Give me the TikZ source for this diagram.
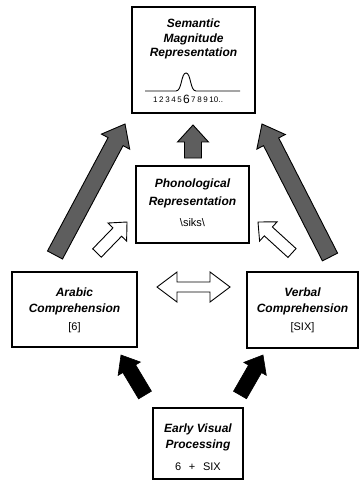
\documentclass[tikz,border=0pt]{standalone}
\usepackage{fontspec}
\setmainfont{Liberation Sans}
\usetikzlibrary{calc}

% Block arrow from #2 (tail) to #3 (tip):
% #1 style, #4 half shaft width, #5 half head width, #6 head length
\newcommand\blockarrow[6]{%
  \path ($(#3)!#6!(#2)$) coordinate (bahead);
  \draw[#1] ($(#2)!#4!90:(#3)$) -- ($(bahead)!#4!90:(#3)$)
    -- ($(bahead)!#5!90:(#3)$) -- (#3) -- ($(bahead)!#5!-90:(#3)$)
    -- ($(bahead)!#4!-90:(#3)$) -- ($(#2)!#4!-90:(#3)$) -- cycle;
}

\tikzset{
  box/.style={draw, line width=1.3pt, inner sep=0pt},
  title/.style={font=\fontsize{12}{15}\selectfont\bfseries\itshape, anchor=base, inner sep=0pt},
  code/.style={font=\fontsize{11}{13}\selectfont, anchor=base, inner sep=0pt},
  numsmall/.style={font=\fontsize{8}{9}\selectfont, inner sep=0pt},
  grayarrow/.style={fill=black!63, draw=black, line width=0.9pt, line join=miter},
  whitearrow/.style={fill=white, draw=black, line width=0.9pt, line join=miter},
  blackarrow/.style={fill=black, draw=black, line width=0.6pt, line join=miter},
}

\begin{document}
\begin{tikzpicture}[x=1pt, y=-1pt]
  \useasboundingbox (0,0) rectangle (361,481);

  % boxes
  \node[box, minimum width=123pt, minimum height=106pt] (sem) at (193.5,60) {};
  \node[box, minimum width=113pt, minimum height=77pt] (pho) at (192.5,204.5) {};
  \node[box, minimum width=125pt, minimum height=75pt] (ara) at (74.5,309.5) {};
  \node[box, minimum width=111pt, minimum height=76pt] (ver) at (302.5,310) {};
  \node[box, minimum width=90pt, minimum height=71pt] (vis) at (198,443.5) {};

  % semantic magnitude representation
  \node[title] (semA) at (193.5,28) {Semantic};
  \node[title] (semB) at (193.5,42.5) {Magnitude};
  \node[title] (semC) at (193.5,57) {Representation};
  \draw[line width=0.9pt] (145,91) -- (176,91)
    .. controls (182,91) and (181,73) .. (186,73)
    .. controls (191,73) and (190,91) .. (196,91) -- (240,91);
  \node[numsmall, anchor=base east] (numA) at (182,103) {1\kern1.6pt2\kern1.6pt3\kern1.6pt4\kern1.6pt5};
  \node[font=\fontsize{12}{13}\selectfont, anchor=base, inner sep=0pt] (numB) at (186.5,104) {6};
  \node[numsmall, anchor=base west] (numC) at (191,103) {7\kern1.6pt8\kern1.6pt9\kern1.6pt10\kern0.5pt..};

  % phonological representation
  \node[title] (phoA) at (192.5,187.5) {Phonological};
  \node[title] (phoB) at (192.5,205) {Representation};
  \node[code] (phoC) at (192.5,226) {\textbackslash siks\textbackslash};

  % arabic comprehension
  \node[title] (araA) at (74.5,296) {Arabic};
  \node[title] (araB) at (74.5,312) {Comprehension};
  \node[code] (araC) at (74.5,330) {[6]};

  % verbal comprehension
  \node[title] (verA) at (302.5,296) {Verbal};
  \node[title] (verB) at (302.5,312) {Comprehension};
  \node[code] (verC) at (302.5,330) {[SIX]};

  % early visual processing
  \node[title] (visA) at (198,432) {Early Visual};
  \node[title] (visB) at (198,448) {Processing};
  \node[code] (visC) at (198,470.5) {6\hspace{0.7em}+\hspace{0.7em}SIX};

  % arrow end points
  \coordinate (gLt) at (55,255);   \coordinate (gLh) at (125,124);
  \coordinate (gRt) at (330,257);  \coordinate (gRh) at (262,124);
  \coordinate (gMt) at (193,158);  \coordinate (gMh) at (193,125);
  \coordinate (wLt) at (97,253);   \coordinate (wLh) at (127,222);
  \coordinate (wRt) at (292,253);  \coordinate (wRh) at (258,222);
  \coordinate (bLt) at (145,395);  \coordinate (bLh) at (121,355);
  \coordinate (bRt) at (240,395);  \coordinate (bRh) at (263,355);

  % routes into the semantic representation
  \blockarrow{grayarrow}{gLt}{gLh}{8.5pt}{16pt}{20pt}
  \blockarrow{grayarrow}{gRt}{gRh}{8.5pt}{16pt}{20pt}
  \blockarrow{grayarrow}{gMt}{gMh}{8.5pt}{15.5pt}{17pt}

  % routes into the phonological representation
  \blockarrow{whitearrow}{wLt}{wLh}{6pt}{13pt}{14pt}
  \blockarrow{whitearrow}{wRt}{wRh}{6pt}{13pt}{14pt}

  % visual input to the comprehension systems
  \blockarrow{blackarrow}{bLt}{bLh}{7.5pt}{13pt}{16pt}
  \blockarrow{blackarrow}{bRt}{bRh}{7.5pt}{13pt}{16pt}

  % two-way link between arabic and verbal comprehension
  \coordinate (dL) at (157,287);
  \coordinate (dR) at (230,287);
  \draw[whitearrow] (dL) -- ++(20,-15) -- ++(0,10) -- ($(dR)+(-20,-5)$)
    -- ++(0,-10) -- (dR) -- ++(-20,15) -- ++(0,-10) -- ($(dL)+(20,5)$)
    -- ++(0,10) -- cycle;
\end{tikzpicture}
\end{document}
